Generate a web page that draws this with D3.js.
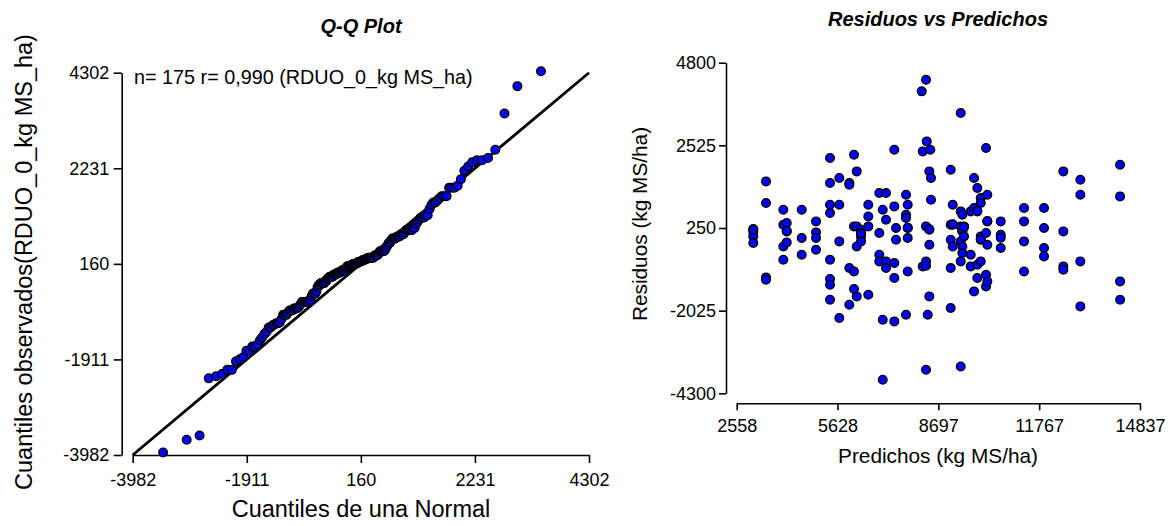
<!DOCTYPE html>
<html>
<head>
<meta charset="utf-8">
<script src="https://cdn.jsdelivr.net/npm/d3@7"></script>
<style>
  body { margin: 0; background: #fff; }
  svg { display: block; }
</style>
</head>
<body>
<svg id="chart" width="1173" height="526"></svg>
<script>
// valores de las ticks (tal como aparecen en la figura)
const qqTicks = [-3982, -1911, 160, 2231, 4302];
const resTicksY = [-4300, -2025, 250, 2525, 4800];
const resTicksX = [2558, 5628, 8697, 11767, 14837];

// predichos y residuos (una linea por columna de predichos)
const predichos = [
  3063, 3063, 3063, 3063, 3063,
  3450, 3450, 3450, 3450,
  3977, 3977, 3977, 3977,
  4081, 4081, 4081, 4081,
  4537, 4537, 4537,
  4973, 4973, 4973, 4973,
  5399, 5399, 5399, 5399, 5399, 5399, 5399, 5399,
  5682, 5682, 5682, 5682,
  5987, 5987, 5987, 5987,
  6130, 6130, 6130, 6130,
  6212, 6212, 6212, 6212,
  6343, 6343, 6343, 6343, 6343,
  6565, 6565, 6565, 6565,
  6900, 6900, 6900, 6900,
  7004, 7004, 7004,
  7104, 7104, 7104, 7104,
  7357, 7357, 7357, 7357, 7357,
  7409, 7409,
  7713, 7713, 7713, 7713,
  7765, 7765, 7765, 7765, 7765,
  8191, 8222, 8222, 8322, 8322, 8322, 8322, 8322, 8344, 8374,
  8423, 8423, 8423, 8423, 8423, 8453, 8474, 8474,
  9074, 9074, 9074, 9074, 9074,
  9135, 9135, 9135, 9135,
  9379, 9379, 9379, 9379, 9379, 9379,
  9428, 9428, 9428, 9428, 9428,
  9479, 9479, 9479,
  9683, 9683, 9683,
  9784, 9784, 9784,
  9884, 9884, 9884, 9884, 9884,
  9988, 9988, 9988, 9988, 9988, 9988,
  10149, 10149, 10149, 10149,
  10189, 10189, 10189, 10189, 10189,
  10597, 10597, 10597, 10597,
  11306, 11306, 11306, 11306,
  11915, 11915, 11915, 11915,
  12503, 12503, 12503, 12503,
  13021, 13021, 13021, 13021,
  14230, 14230, 14230, 14230
];
const residuos = [
  222, 140, 19, -163, 200,
  1533, 938, -1110, -1173,
  754, 341, -257, -623,
  388, 157, -146, 170,
  754, -25, -485,
  432, 129, -25, -347,
  2177, 1489, 891, 663, -623, -1154, -1311, -1724,
  1627, 891, -119, -2228,
  1489, 1442, -851, -1862,
  2268, 294, -945, -1429,
  1808, 294, -257, -1633,
  203, 112, 19, -119, 100,
  891, 569, 294, -1586,
  1214, 112, -485, -669,
  754, -2274, -3926,
  1214, 479, -669, -851,
  2406, 845, -714, -1127, -2321,
  250, -72,
  1167, 616, 525, -2137,
  891, 250, -25, -945, 260,
  4011, 2359, -807, 4333, 294, -669, -788, -3651, 2634, -2137,
  1808, 203, -210, -1633, 215, 2406, 1627, 1029,
  1855, 341, -72, -851, -1952,
  891, 341, -257, 350,
  3416, 707, 294, -119, -669, -3560,
  616, 157, -257, -438, 170,
  294, 19, 280,
  707, -485, -807,
  1627, 800, -1495,
  1351, 707, -760, -1127, 720,
  1076, 938, 19, -72, -669, -60,
  2452, 112, -1036, -1358,
  1167, 432, -210, -1220, 440,
  432, 66, -17, -301,
  800, 432, -119, -945,
  800, 250, -301, -532,
  1808, 157, -807, -898,
  1580, 1167, -669, -1908,
  1993, 1120, -1220, -1724
];

// cuantiles teoricos de la normal (eje X del Q-Q), n = 175
const cuantilesNormal = [
  -3430, -3002, -2768, -2601, -2469, -2360, -2265, -2182, -2107, -2039, -1976,
  -1917, -1862, -1811, -1762, -1716, -1672, -1630, -1589, -1550, -1513, -1477,
  -1442, -1408, -1374, -1342, -1311, -1280, -1251, -1221, -1193, -1165, -1137,
  -1111, -1084, -1058, -1033, -1008, -983, -958, -934, -911, -887, -864,
  -841, -819, -797, -775, -753, -731, -710, -689, -668, -647, -626,
  -606, -585, -565, -545, -525, -505, -486, -466, -447, -427, -408,
  -389, -370, -351, -332, -313, -294, -276, -257, -238, -220, -201,
  -183, -165, -146, -128, -110, -91, -73, -55, -36, -18, 0,
  18, 36, 55, 73, 91, 110, 128, 146, 165, 183, 201,
  220, 238, 257, 276, 294, 313, 332, 351, 370, 389, 408,
  427, 447, 466, 486, 505, 525, 545, 565, 585, 606, 626,
  647, 668, 689, 710, 731, 753, 775, 797, 819, 841, 864,
  887, 911, 934, 958, 983, 1008, 1033, 1058, 1084, 1111, 1137,
  1165, 1193, 1221, 1251, 1280, 1311, 1342, 1374, 1408, 1442, 1477,
  1513, 1550, 1589, 1630, 1672, 1716, 1762, 1811, 1862, 1917, 1976,
  2039, 2107, 2182, 2265, 2360, 2469, 2601, 2768, 3002, 3430
];

const FONT = '"Liberation Sans", Arial, Helvetica, sans-serif';
const svg = d3.select("#chart");
const fmt = d => String(d);   // guion normal, no el signo menos unicode

// estilo comun de los ejes
function style_axis(g, fontSize) {
  g.attr("font-family", FONT).attr("font-size", fontSize);
  g.select(".domain").attr("stroke", "#000").attr("stroke-width", 1.6);
  g.selectAll(".tick line").attr("stroke", "#000").attr("stroke-width", 1.6);
  g.selectAll(".tick text").attr("fill", "#000");
}

function draw_points(sel, data, fx, fy) {
  sel.selectAll("circle")
    .data(data)
    .enter()
    .append("circle")
    .attr("cx", fx)
    .attr("cy", fy)
    .attr("r", 4.3)
    .attr("fill", "#0000ff")
    .attr("stroke", "#000")
    .attr("stroke-width", 1.4);
}

//---------------- Q-Q Plot ----------------
function draw_qq() {
  const x = d3.scaleLinear().domain([-3982, 4302]).range([132.7, 589]);
  const y = d3.scaleLinear().domain([-3982, 4302]).range([455, 72.7]);
  const observados = d3.sort(residuos);
  const pts = cuantilesNormal.map((q, i) => [q, observados[i]]);

  svg.append("g")
    .attr("transform", "translate(0,455)")
    .call(d3.axisBottom(x).tickValues(qqTicks).tickFormat(fmt)
      .tickSize(8).tickSizeOuter(0).tickPadding(10.5))
    .call(g => style_axis(g, 18));

  svg.append("g")
    .attr("transform", "translate(121.7,0)")
    .call(d3.axisLeft(y).tickValues(qqTicks).tickFormat(fmt)
      .tickSize(8).tickSizeOuter(0).tickPadding(4.5))
    .call(g => style_axis(g, 18));

  // recta y = x
  svg.append("line")
    .attr("x1", x(-3982)).attr("y1", y(-3982))
    .attr("x2", x(4302)).attr("y2", y(4302))
    .attr("stroke", "#000")
    .attr("stroke-width", 2.8);

  draw_points(svg.append("g"), pts, d => x(d[0]), d => y(d[1]));

  svg.append("text")
    .attr("x", 134).attr("y", 84)
    .attr("font-family", FONT).attr("font-size", 19.8)
    .text("n= 175 r= 0,990 (RDUO_0_kg MS_ha)");

  svg.append("text")
    .attr("x", 361).attr("y", 33)
    .attr("text-anchor", "middle")
    .attr("font-family", FONT).attr("font-size", 20)
    .attr("font-weight", "bold").attr("font-style", "italic")
    .text("Q-Q Plot");

  svg.append("text")
    .attr("x", 361).attr("y", 517)
    .attr("text-anchor", "middle")
    .attr("font-family", FONT).attr("font-size", 23.5)
    .text("Cuantiles de una Normal");

  svg.append("text")
    .attr("transform", "translate(32,262) rotate(-90)")
    .attr("text-anchor", "middle")
    .attr("font-family", FONT).attr("font-size", 23.5)
    .text("Cuantiles observados(RDUO_0_kg MS_ha)");
}

//---------------- Residuos vs Predichos ----------------
function draw_residuos() {
  const x = d3.scaleLinear().domain([2558, 14837]).range([736.7, 1140]);
  const y = d3.scaleLinear().domain([-4300, 4800]).range([393.3, 62.7]);

  svg.append("g")
    .attr("transform", "translate(0,403.3)")
    .call(d3.axisBottom(x).tickValues(resTicksX).tickFormat(fmt)
      .tickSize(7).tickSizeOuter(0).tickPadding(8.5))
    .call(g => style_axis(g, 18));

  svg.append("g")
    .attr("transform", "translate(726,0)")
    .call(d3.axisLeft(y).tickValues(resTicksY).tickFormat(fmt)
      .tickSize(7).tickSizeOuter(0).tickPadding(3))
    .call(g => style_axis(g, 18));

  draw_points(svg.append("g"), d3.range(predichos.length), i => x(predichos[i]), i => y(residuos[i]));

  svg.append("text")
    .attr("x", 938).attr("y", 26)
    .attr("text-anchor", "middle")
    .attr("font-family", FONT).attr("font-size", 20)
    .attr("font-weight", "bold").attr("font-style", "italic")
    .text("Residuos vs Predichos");

  svg.append("text")
    .attr("x", 938).attr("y", 463)
    .attr("text-anchor", "middle")
    .attr("font-family", FONT).attr("font-size", 20.8)
    .text("Predichos (kg MS/ha)");

  svg.append("text")
    .attr("transform", "translate(647,224) rotate(-90)")
    .attr("text-anchor", "middle")
    .attr("font-family", FONT).attr("font-size", 20.8)
    .text("Residuos (kg MS/ha)");
}

draw_qq();
draw_residuos();
</script>
</body>
</html>
